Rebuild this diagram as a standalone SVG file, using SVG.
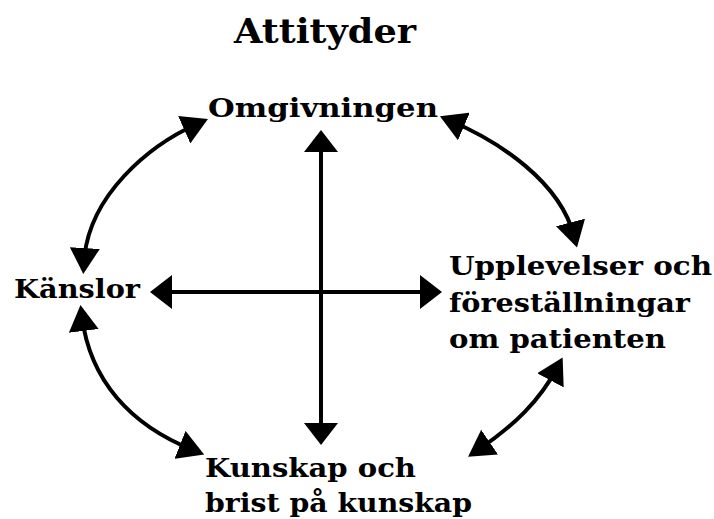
<svg xmlns="http://www.w3.org/2000/svg" width="714" height="519" viewBox="0 0 714 519">
<style>
text{font-family:"DejaVu Serif","Liberation Serif",serif;font-weight:bold;fill:#000;}
.lbl{font-size:26px;}
.title{font-size:34px;}
.ln{fill:none;stroke:#000;stroke-width:4;}
</style>
<defs>
<marker id="hs" markerUnits="userSpaceOnUse" markerWidth="22" markerHeight="34" refX="12" refY="17" orient="auto-start-reverse" viewBox="0 0 22 34">
<path d="M0,0 L22,17 L0,34 z" fill="#000"/>
</marker>
<marker id="hc" markerUnits="userSpaceOnUse" markerWidth="26" markerHeight="30" refX="14" refY="15" orient="auto-start-reverse" viewBox="0 0 26 30">
<path d="M0,0 L26,15 L0,30 z" fill="#000"/>
</marker>
</defs>
<rect width="714" height="519" fill="#fff"/>
<g id="title"><text class="title" x="234" y="43" textLength="182" lengthAdjust="spacingAndGlyphs">Attityder</text></g>
<g id="omgivningen"><text class="lbl" x="208" y="117" textLength="230" lengthAdjust="spacingAndGlyphs">Omgivningen</text></g>
<g id="kanslor"><text class="lbl" x="14" y="298" textLength="126" lengthAdjust="spacingAndGlyphs">Känslor</text></g>
<g id="upplevelser">
<text class="lbl" x="449" y="275" textLength="263" lengthAdjust="spacingAndGlyphs">Upplevelser och</text>
<text class="lbl" x="449" y="312" textLength="241" lengthAdjust="spacingAndGlyphs">föreställningar</text>
<text class="lbl" x="449" y="348" textLength="217" lengthAdjust="spacingAndGlyphs">om patienten</text>
</g>
<g id="kunskap">
<text class="lbl" x="205" y="477" textLength="211" lengthAdjust="spacingAndGlyphs">Kunskap och</text>
<text class="lbl" x="205" y="512" textLength="267" lengthAdjust="spacingAndGlyphs">brist på kunskap</text>
</g>
<g id="connectors">
<path class="ln" d="M321,140 L321,435" marker-start="url(#hs)" marker-end="url(#hs)"/>
<path class="ln" d="M160,292 L432,292" marker-start="url(#hs)" marker-end="url(#hs)"/>
<path class="ln" d="M197,124 C150,145 88,195 84,262" marker-start="url(#hc)" marker-end="url(#hc)"/>
<path class="ln" d="M451,121 C500,142 560,182 574,236" marker-start="url(#hc)" marker-end="url(#hc)"/>
<path class="ln" d="M82,317 C90,380 130,425 193,450" marker-start="url(#hc)" marker-end="url(#hc)"/>
<path class="ln" d="M557,368 C540,400 515,425 478,450" marker-start="url(#hc)" marker-end="url(#hc)"/>
</g>
</svg>
